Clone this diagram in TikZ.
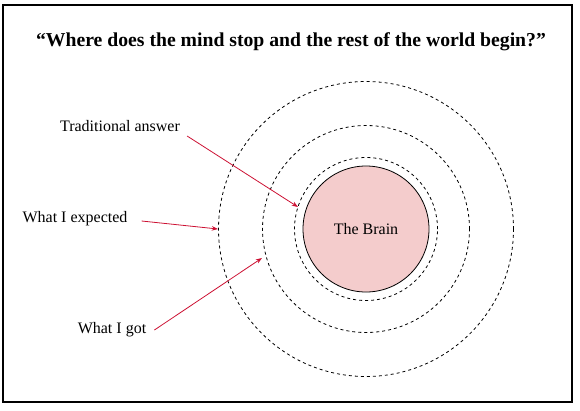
\documentclass[tikz,border=0pt]{standalone}
\usepackage{fontspec}
\setmainfont{Liberation Serif}
\usepackage{tikz}
\usetikzlibrary{arrows.meta,positioning}
\definecolor{brainpink}{HTML}{F4CCCC}
\definecolor{arrowred}{HTML}{CC1133}

\begin{document}
\begin{tikzpicture}[
    x=1pt,
    y=-1pt,
    ring/.style={circle, draw=black, dashed, thick, inner sep=0pt},
    lab/.style={inner sep=1pt, font=\fontsize{16}{19}\selectfont},
    point/.style={-{Stealth[length=2.2mm,width=1.6mm]}, thick, draw=arrowred}
  ]
    \useasboundingbox (0,0) rectangle (580,410);
    \draw[line width=1.3pt] (3,5) rectangle (572,402);

    \node[font=\bfseries\fontsize{19.7}{23}\selectfont] (title) at (291,42) {“Where does the mind stop and the rest of the world begin?”};

    % rings round the brain
    \node[ring, minimum size=295] (outer) at (366,229) {};
    \node[ring, minimum size=207] (middle) at (366,229) {};
    \node[ring, minimum size=143] (inner) at (366,229) {};
    \node[circle, draw=black, thick, fill=brainpink, minimum size=126, lab] (brain) at (366,229) {The Brain};

    \node[lab] (trad) at (120,126) {Traditional answer};
    \node[lab] (expect) at (75,219) {What I expected};
    \node[lab] (got) at (112,330) {What I got};

    \coordinate (tradend) at (298,207);
    \coordinate (expectend) at (218,229);
    \coordinate (gotend) at (262,258);

    \draw[point] ([shift={(6,10)}]trad.east) -- (tradend);
    \draw[point] ([shift={(13,2)}]expect.east) -- (expectend);
    \draw[point] ([shift={(7,0)}]got.east) -- (gotend);
  \end{tikzpicture}
\end{document}
